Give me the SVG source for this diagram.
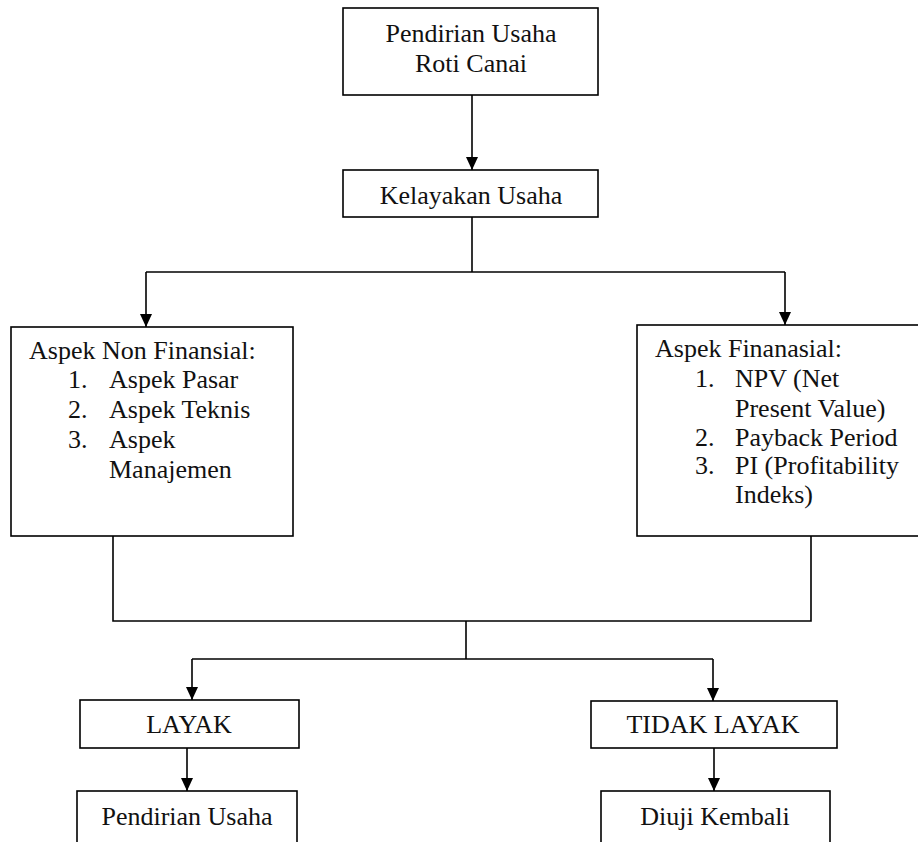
<svg xmlns="http://www.w3.org/2000/svg" width="918" height="842" viewBox="0 0 918 842">
<style>
.box{fill:#fff;stroke:#000;stroke-width:1.6}
.t{font-family:"Liberation Serif","Times New Roman","DejaVu Serif",serif;font-size:26px;fill:#111}
.c{text-anchor:middle}
.ln{fill:none;stroke:#000;stroke-width:1.6}
</style>
<defs>
<marker id="ah" markerUnits="userSpaceOnUse" markerWidth="14" markerHeight="14" viewBox="0 0 14 14" refX="13" refY="7" orient="auto">
<path d="M0,1 L13,7 L0,13 Z" fill="#000"/>
</marker>
</defs>
<rect width="918" height="842" fill="#fff"/>
<g id="connectors">
<line class="ln" x1="472" y1="95" x2="472" y2="170" marker-end="url(#ah)"/>
<polyline class="ln" points="472,217 472,272"/>
<polyline class="ln" points="146,272 785,272"/>
<line class="ln" x1="146" y1="272" x2="146" y2="327" marker-end="url(#ah)"/>
<line class="ln" x1="785" y1="272" x2="785" y2="325" marker-end="url(#ah)"/>
<polyline class="ln" points="113,536 113,621 811,621 811,536"/>
<polyline class="ln" points="466,621 466,659"/>
<polyline class="ln" points="192,659 713,659"/>
<line class="ln" x1="192" y1="659" x2="192" y2="700" marker-end="url(#ah)"/>
<line class="ln" x1="713" y1="659" x2="713" y2="701" marker-end="url(#ah)"/>
<line class="ln" x1="187" y1="748" x2="187" y2="791" marker-end="url(#ah)"/>
<line class="ln" x1="714" y1="748" x2="714" y2="791" marker-end="url(#ah)"/>
</g>
<g id="n-pendirian-roti">
<rect class="box" x="343" y="8" width="255" height="87"/>
<text class="t c" x="471" y="42">Pendirian Usaha</text>
<text class="t c" x="471" y="72">Roti Canai</text>
</g>
<g id="n-kelayakan">
<rect class="box" x="343" y="170" width="255" height="47"/>
<text class="t c" x="471" y="204">Kelayakan Usaha</text>
</g>
<g id="n-nonfinansial">
<rect class="box" x="11" y="327" width="282" height="209"/>
<text class="t" x="29" y="359">Aspek Non Finansial:</text>
<text class="t" x="68" y="388">1.</text><text class="t" x="109" y="388">Aspek Pasar</text>
<text class="t" x="68" y="418">2.</text><text class="t" x="109" y="418">Aspek Teknis</text>
<text class="t" x="68" y="448">3.</text><text class="t" x="109" y="448">Aspek</text>
<text class="t" x="109" y="478">Manajemen</text>
</g>
<g id="n-finansial">
<rect class="box" x="637" y="325" width="290" height="211"/>
<text class="t" x="655" y="357">Aspek Finanasial:</text>
<text class="t" x="695" y="387">1.</text><text class="t" x="735" y="387">NPV (Net</text>
<text class="t" x="735" y="417">Present Value)</text>
<text class="t" x="695" y="446">2.</text><text class="t" x="735" y="446">Payback Period</text>
<text class="t" x="695" y="474">3.</text><text class="t" x="735" y="474">PI (Profitability</text>
<text class="t" x="735" y="503">Indeks)</text>
</g>
<g id="n-layak">
<rect class="box" x="80" y="700" width="219" height="48"/>
<text class="t c" x="189" y="733">LAYAK</text>
</g>
<g id="n-tidak-layak">
<rect class="box" x="591" y="701" width="246" height="47"/>
<text class="t c" x="713" y="733">TIDAK LAYAK</text>
</g>
<g id="n-pendirian-usaha">
<rect class="box" x="77" y="791" width="220" height="70"/>
<text class="t c" x="187" y="825">Pendirian Usaha</text>
</g>
<g id="n-diuji">
<rect class="box" x="601" y="791" width="229" height="70"/>
<text class="t c" x="715" y="825">Diuji Kembali</text>
</g>
</svg>
